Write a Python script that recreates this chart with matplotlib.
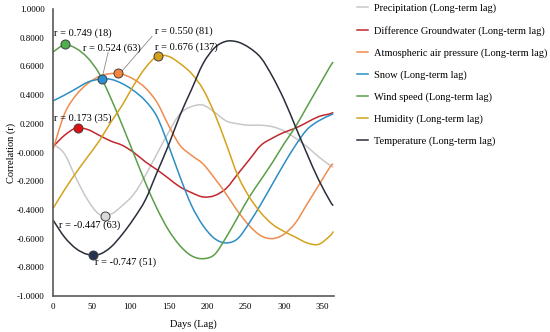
import matplotlib
matplotlib.use('Agg')
import matplotlib.pyplot as plt
import numpy as np
from matplotlib.path import Path
from matplotlib.patches import PathPatch

plt.rcParams['font.family'] = ['Liberation Serif', 'DejaVu Serif']
plt.rcParams['axes.unicode_minus'] = False

# lag in days, correlation
days = [0, 15, 30, 45, 60, 75, 90, 105, 120, 135, 150, 165, 180, 195, 210,
        225, 240, 255, 270, 285, 300, 315, 330, 345, 360, 364]

precip = [0.06, -0.01, -0.18, -0.33, -0.43, -0.43, -0.37, -0.29, -0.16, -0.01, 0.14, 0.27, 0.32,
          0.33, 0.28, 0.22, 0.20, 0.19, 0.19, 0.18, 0.15, 0.10, 0.04, -0.03, -0.09, -0.10]
groundwater = [0.04, 0.12, 0.17, 0.16, 0.12, 0.08, 0.05, 0.00, -0.065, -0.12, -0.18, -0.24, -0.28,
               -0.31, -0.30, -0.25, -0.15, -0.05, 0.05, 0.10, 0.14, 0.17, 0.21, 0.25, 0.27, 0.28]
pressure = [0.02, 0.27, 0.40, 0.48, 0.53, 0.55, 0.545, 0.51, 0.45, 0.35, 0.19, 0.05, -0.02,
            -0.08, -0.18, -0.29, -0.41, -0.51, -0.58, -0.60, -0.57, -0.49, -0.36, -0.23, -0.10, -0.08]
snow = [0.36, 0.40, 0.445, 0.49, 0.51, 0.51, 0.48, 0.43, 0.36, 0.25, 0.05, -0.17, -0.37,
        -0.51, -0.60, -0.63, -0.60, -0.49, -0.36, -0.22, -0.08, 0.05, 0.16, 0.22, 0.26, 0.27]
wind = [0.70, 0.75, 0.725, 0.66, 0.55, 0.38, 0.19, -0.01, -0.21, -0.39, -0.54, -0.65, -0.72,
        -0.74, -0.71, -0.59, -0.45, -0.31, -0.19, -0.07, 0.06, 0.18, 0.32, 0.46, 0.60, 0.63]
humidity = [-0.39, -0.26, -0.14, -0.03, 0.08, 0.21, 0.33, 0.47, 0.59, 0.67, 0.67, 0.62, 0.55,
            0.44, 0.27, 0.06, -0.16, -0.31, -0.42, -0.50, -0.55, -0.59, -0.63, -0.64, -0.58, -0.55]
temperature = [-0.47, -0.59, -0.67, -0.71, -0.71, -0.66, -0.57, -0.46, -0.33, -0.14, 0.05, 0.26, 0.44,
               0.62, 0.73, 0.775, 0.77, 0.73, 0.66, 0.53, 0.37, 0.18, -0.01, -0.19, -0.34, -0.37]

names = ['Precipitation (Long-term lag)', 'Difference Groundwater (Long-term lag)',
         'Atmospheric air pressure (Long-term lag)', 'Snow (Long-term lag)',
         'Wind speed (Long-term lag)', 'Humidity (Long-term lag)', 'Temperature (Long-term lag)']
series = [precip, groundwater, pressure, snow, wind, humidity, temperature]
colors = ['#c8c8c8', '#c0282d', '#f08c4f', '#2c8ec4', '#5a9e48', '#d4a21b', '#2a2e3a']
marker_colors = ['#d9d9d9', '#e01010', '#f7843c', '#2a90d0', '#4cb04c', '#d4a017', '#233350']

# extreme points (as drawn) and their labels
peak_day = [67.7, 33, 85, 63.5, 16, 136, 52.6]
peak_r = [-0.443, 0.171, 0.555, 0.513, 0.755, 0.671, -0.716]
peak_text = ['r = -0.447 (63)', 'r = 0.173 (35)', 'r = 0.550 (81)', 'r = 0.524 (63)',
             'r = 0.749 (18)', 'r = 0.676 (137)', 'r = -0.747 (51)']
text_day = [8.2, 1.7, 132.5, 39.3, 1.7, 132.5, 54.8]
text_r = [-0.510, 0.241, 0.842, 0.730, 0.828, 0.734, -0.766]


def smooth_path(x, y):
    # excel style "smoothed line": cubic bezier segments through the points
    p = np.column_stack([x, y]).astype(float)
    verts = [p[0]]
    codes = [Path.MOVETO]
    n = len(p)
    for i in range(n - 1):
        p0 = p[i - 1] if i > 0 else p[i]
        p3 = p[i + 2] if i + 2 < n else p[i + 1]
        c1 = p[i] + (p[i + 1] - p0) / 6
        c2 = p[i + 1] - (p3 - p[i]) / 6
        verts += [c1, c2, p[i + 1]]
        codes += [Path.CURVE4] * 3
    return Path(verts, codes)


fig = plt.figure(figsize=(5.5, 3.32), dpi=100)
ax = fig.add_axes([53 / 550, 1 - 296 / 332, 281 / 550, 287 / 332])

for s, c, n in zip(series, colors, names):
    ax.add_patch(PathPatch(smooth_path(days, s), fill=False, edgecolor=c, lw=1.1))
    ax.plot([], [], color=c, lw=1.1, label=n)

# leader lines for the two crowded labels
ax.plot([63.5, 71.6], [0.513, 0.697], color='#8c8c8c', lw=0.6)
ax.plot([89.4, 128.6], [0.566, 0.809], color='#8c8c8c', lw=0.6)

for i in range(len(series)):
    ax.plot(peak_day[i], peak_r[i], 'o', ms=6.5, mfc=marker_colors[i], mec='#404040', mew=0.7, zorder=5)
    ax.text(text_day[i], text_r[i], peak_text[i], fontsize=7.5, ha='left', va='center', zorder=6)

ax.set_xlim(0, 365)
ax.set_ylim(-1, 1)
ax.set_xticks([0, 50, 100, 150, 200, 250, 300, 350])
yt = np.round(np.arange(-1, 1.01, 0.2), 1)
ax.set_yticks(yt)
ax.set_yticklabels(['{:.4f}'.format(v) for v in yt])
ax.tick_params(length=0, labelsize=6.5)
ax.tick_params(axis='y', pad=6)
ax.tick_params(axis='x', pad=5)
for sp in ['top', 'right']:
    ax.spines[sp].set_visible(False)
for sp in ['left', 'bottom']:
    ax.spines[sp].set_color('#595959')
    ax.spines[sp].set_linewidth(1.2)

ax.set_xlabel('Days (Lag)', fontsize=7.5, labelpad=6)
ax.set_ylabel('Correlation (r)', fontsize=7.5, labelpad=1)

fig.legend(loc='upper left', bbox_to_anchor=(357 / 550, 1 - 3.5 / 332), frameon=False,
           fontsize=7.5, handlelength=1.05, handletextpad=0.6, labelspacing=1.2,
           borderpad=0, borderaxespad=0)

fig.savefig('out.png', dpi=100)
